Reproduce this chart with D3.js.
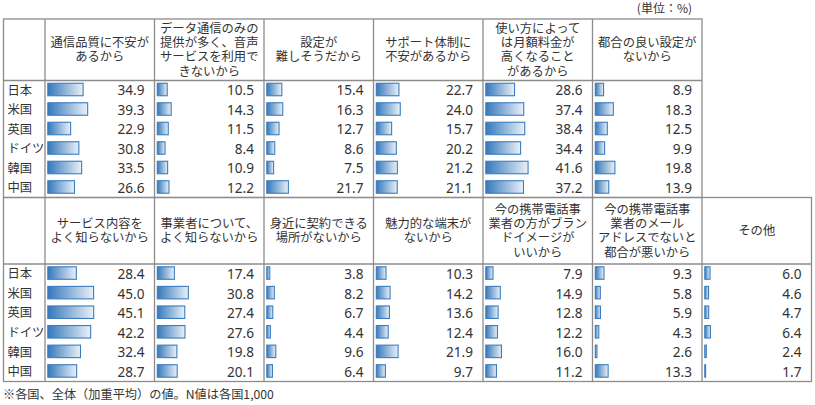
<!DOCTYPE html>
<html><head><meta charset="utf-8">
<script src="https://cdn.jsdelivr.net/npm/d3@7"></script>
<style>
html,body{margin:0;padding:0;background:#fff;}
svg{display:block;font-family:"Noto Sans CJK JP","Noto Sans",sans-serif;}
</style></head>
<body><svg id="c" width="815" height="405"></svg>
<script>
// ---- data ----
const countries = ["日本","米国","英国","ドイツ","韓国","中国"];
// top block
const quality   = [34.9,39.3,22.9,30.8,33.5,26.6];
const dataOnly  = [10.5,14.3,11.5,8.4,10.9,12.2];
const setupHard = [15.4,16.3,12.7,8.6,7.5,21.7];
const support   = [22.7,24.0,15.7,20.2,21.2,21.1];
const monthly   = [28.6,37.4,38.4,34.4,41.6,37.2];
const noPlan    = [8.9,18.3,12.5,9.9,19.8,13.9];
// bottom block
const unknownService = [28.4,45.0,45.1,42.2,32.4,28.7];
const unknownCarrier = [17.4,30.8,27.4,27.6,19.8,20.1];
const noShop         = [3.8,8.2,6.7,4.4,9.6,6.4];
const noDevice       = [10.3,14.2,13.6,12.4,21.9,9.7];
const brandImage     = [7.9,14.9,12.8,12.2,16.0,11.2];
const mailAddress    = [9.3,5.8,5.9,4.3,2.6,13.3];
const other          = [6.0,4.6,4.7,6.4,2.4,1.7];

const topHeaders = [
  ["通信品質に不安が","あるから"],
  ["データ通信のみの","提供が多く、音声","サービスを利用で","きないから"],
  ["設定が","難しそうだから"],
  ["サポート体制に","不安があるから"],
  ["使い方によって","は月額料金が","高くなること","があるから"],
  ["都合の良い設定が","ないから"]
];
const bottomHeaders = [
  ["サービス内容を","よく知らないから"],
  ["事業者について、","よく知らないから"],
  ["身近に契約できる","場所がないから"],
  ["魅力的な端末が","ないから"],
  ["今の携帯電話事","業者の方がブラン","ドイメージが","いいから"],
  ["今の携帯電話事","業者のメール","アドレスでないと","都合が悪いから"],
  ["その他"]
];
const topSeries = [quality,dataOnly,setupHard,support,monthly,noPlan];
const bottomSeries = [unknownService,unknownCarrier,noShop,noDevice,brandImage,mailAddress,other];
const unitLabel = "(単位：%)";
const footnote = "※各国、全体（加重平均）の値。N値は各国1,000";

// ---- layout ----
const svg = d3.select("#c");
const defs = svg.append("defs");
const g = defs.append("linearGradient").attr("id","barGrad").attr("x1","0").attr("x2","1").attr("y1","0").attr("y2","0");
g.append("stop").attr("offset","0%").attr("stop-color","#3578bb");
g.append("stop").attr("offset","100%").attr("stop-color","#eaf1f8");

const left = 3.5, labelW = 41.5, colW = 109.5;
const lineColor = "#8c8c8c", textColor = "#333";
const x = d3.scaleLinear().domain([0,100]).range([0,104]);

function block(series, headers, top, headBottom, bottom) {
  const nCols = series.length;
  const right = left + labelW + colW*nCols;
  const gb = svg.append("g");
  const y = d3.scaleBand().domain(countries).range([headBottom, bottom]);
  // header text (one text element per line)
  headers.forEach((lines, i) => {
    const cx = left + labelW + colW*i + colW/2;
    const lh = 14.3;
    const cy = (top + headBottom)/2;
    const y0 = cy - (lines.length-1)*lh/2;
    lines.forEach((l,k)=>{
      gb.append("text").attr("text-anchor","middle").attr("fill",textColor)
        .attr("font-size",12.3).attr("x",cx).attr("y",y0 + k*lh).attr("dy","0.36em").text(l);
    });
  });
  // row labels
  countries.forEach(c => {
    gb.append("text").attr("x",left+4).attr("y",y(c)+y.bandwidth()/2).attr("dy","0.36em")
      .attr("font-size",12.3).attr("fill",textColor).text(c);
  });
  // bars and values
  series.forEach((vals, i) => {
    const x0 = left + labelW + colW*i;
    const cg = gb.append("g");
    cg.selectAll("rect").data(vals).join("rect")
      .attr("x", x0+2.8)
      .attr("y", (d,k)=> y(countries[k]) + y.bandwidth()/2 - 7)
      .attr("width", d=> Math.max(x(d)-1, 0.8))
      .attr("height", 12.5)
      .attr("fill","url(#barGrad)")
      .attr("stroke","#3a7dc0").attr("stroke-width",1.1);
    cg.selectAll("text").data(vals).join("text")
      .attr("x", x0 + colW - 10)
      .attr("y", (d,k)=> y(countries[k]) + y.bandwidth()/2)
      .attr("dy","0.38em")
      .attr("text-anchor","end").attr("font-size",13.6).attr("fill",textColor)
      .attr("font-family","'Noto Sans','Noto Sans CJK JP',sans-serif")
      .text(d=>d.toFixed(1));
  });
  // grid lines
  const L = gb.append("g").attr("stroke",lineColor).attr("stroke-width",1.3).attr("fill","none");
  L.append("rect").attr("x",left).attr("y",top).attr("width",right-left).attr("height",bottom-top);
  L.append("line").attr("x1",left).attr("x2",right).attr("y1",headBottom).attr("y2",headBottom);
  for (let i=0;i<nCols;i++){
    const xx = left + labelW + colW*i;
    L.append("line").attr("x1",xx).attr("x2",xx).attr("y1",top).attr("y2",bottom);
  }
}

block(topSeries, topHeaders, 19, 80.5, 197.5);
block(bottomSeries, bottomHeaders, 197.5, 264, 381.5);

svg.append("text").attr("x",692).attr("y",9).attr("dy","0.36em").attr("text-anchor","end")
  .attr("font-size",12).attr("fill",textColor).text(unitLabel);
svg.append("text").attr("x",3).attr("y",395).attr("dy","0.36em")
  .attr("font-size",12.2).attr("fill",textColor).text(footnote);
</script></body></html>
